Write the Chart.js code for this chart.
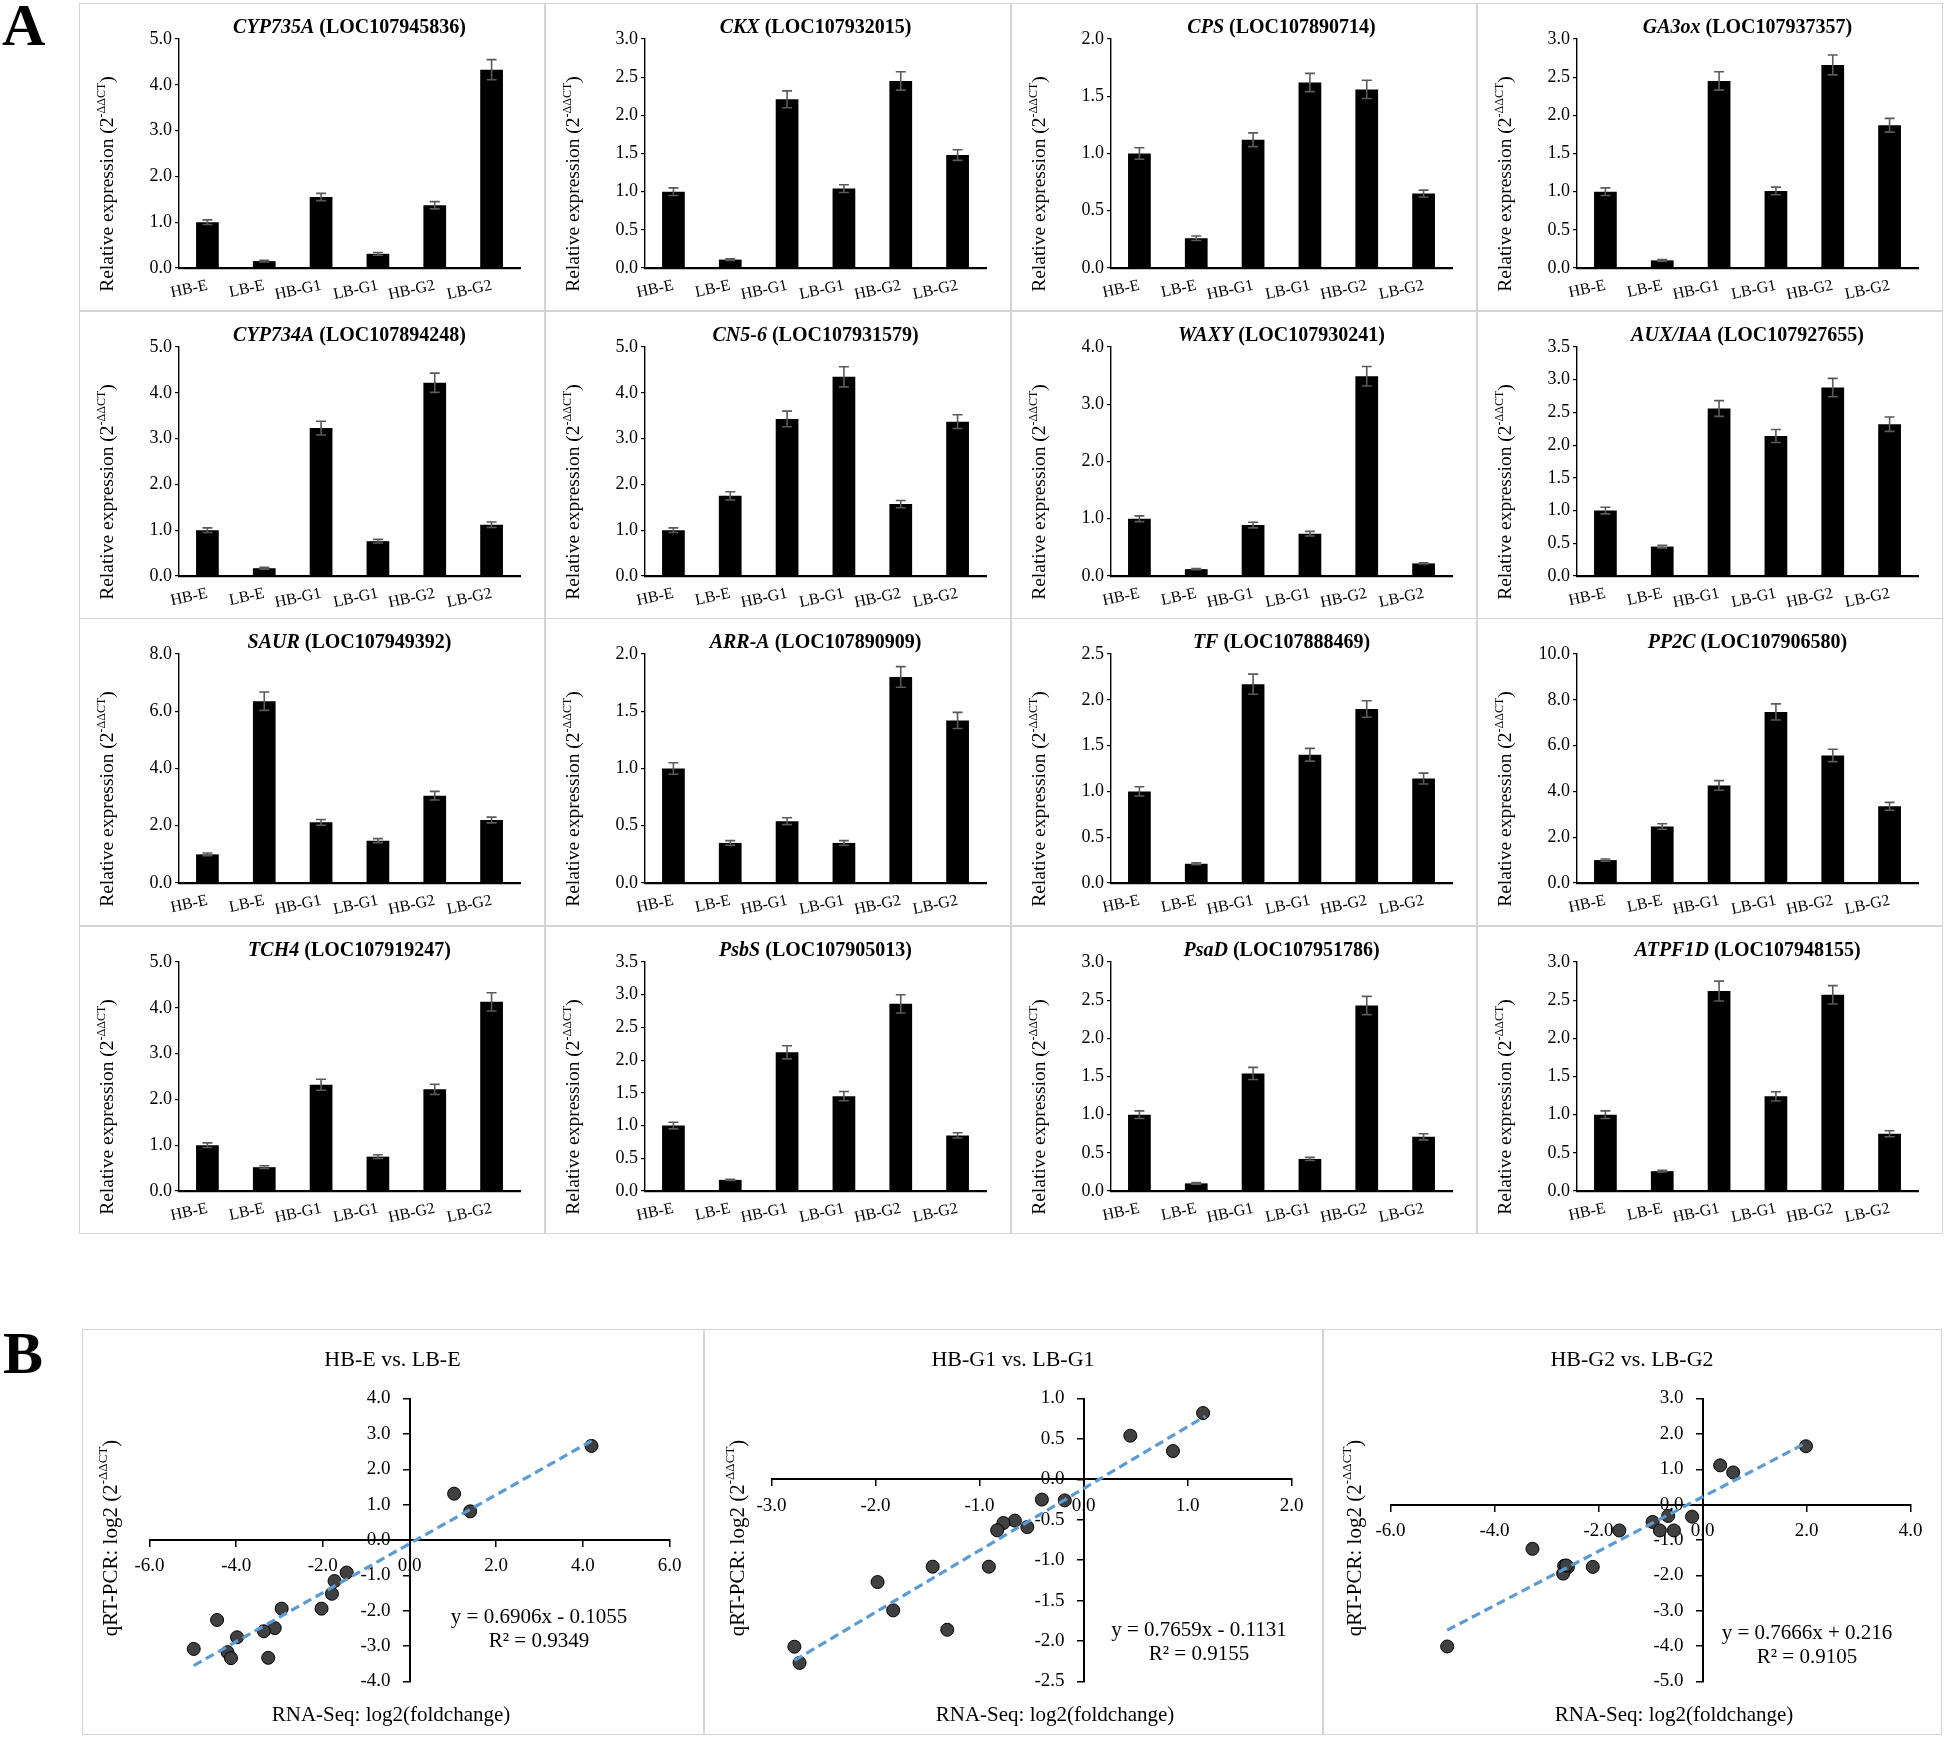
<!DOCTYPE html>
<html><head><meta charset="utf-8">
<script src="https://cdn.jsdelivr.net/npm/chart.js@4.4.0/dist/chart.umd.min.js"></script>
<style>
body{margin:0;background:#fff;width:1946px;height:1738px;position:relative;overflow:hidden;font-family:"Liberation Serif",serif}
.box{position:absolute;border:1.5px solid #d4d4d4;box-sizing:border-box;background:#fff}
.box canvas{position:absolute;left:0;top:0}
.lbl{position:absolute;font-weight:bold;font-size:60px;line-height:1;color:#000}
</style></head><body>
<div class="lbl" style="left:2px;top:-5px">A</div>
<div class="lbl" style="left:3px;top:1323px">B</div>
<script>
// ---------- Panel A data ----------
const categories = ['HB-E','LB-E','HB-G1','LB-G1','HB-G2','LB-G2'];
const geneNames = ['CYP735A','CKX','CPS','GA3ox','CYP734A','CN5-6','WAXY','AUX/IAA','SAUR','ARR-A','TF','PP2C','TCH4','PsbS','PsaD','ATPF1D'];
const locusIds = ['LOC107945836','LOC107932015','LOC107890714','LOC107937357','LOC107894248','LOC107931579','LOC107930241','LOC107927655','LOC107949392','LOC107890909','LOC107888469','LOC107906580','LOC107919247','LOC107905013','LOC107951786','LOC107948155'];
const yAxisMax  = [5.0, 3.0, 2.0, 3.0, 5.0, 5.0, 4.0, 3.5, 8.0, 2.0, 2.5, 10.0, 5.0, 3.5, 3.0, 3.0];
const yAxisStep = [1.0, 0.5, 0.5, 0.5, 1.0, 1.0, 1.0, 0.5, 2.0, 0.5, 0.5, 2.0, 1.0, 0.5, 0.5, 0.5];

const valCYP735A = [1.00, 0.15, 1.55, 0.31, 1.37, 4.33];
const errCYP735A = [0.05, 0.02, 0.08, 0.03, 0.08, 0.22];
const valCKX     = [1.00, 0.11, 2.21, 1.04, 2.45, 1.48];
const errCKX     = [0.05, 0.01, 0.11, 0.05, 0.12, 0.07];
const valCPS     = [1.00, 0.26, 1.12, 1.62, 1.56, 0.65];
const errCPS     = [0.05, 0.02, 0.06, 0.08, 0.08, 0.03];
const valGA3ox   = [1.00, 0.10, 2.45, 1.01, 2.66, 1.87];
const errGA3ox   = [0.05, 0.01, 0.12, 0.05, 0.13, 0.09];
const valCYP734A = [1.00, 0.17, 3.23, 0.76, 4.22, 1.12];
const errCYP734A = [0.05, 0.02, 0.15, 0.04, 0.21, 0.06];
const valCN56    = [1.00, 1.75, 3.43, 4.35, 1.57, 3.37];
const errCN56    = [0.05, 0.09, 0.17, 0.22, 0.08, 0.15];
const valWAXY    = [1.00, 0.12, 0.89, 0.74, 3.49, 0.22];
const errWAXY    = [0.05, 0.01, 0.05, 0.04, 0.17, 0.01];
const valAUXIAA  = [1.00, 0.45, 2.56, 2.14, 2.88, 2.32];
const errAUXIAA  = [0.05, 0.02, 0.12, 0.10, 0.14, 0.11];
const valSAUR    = [1.00, 6.35, 2.12, 1.48, 3.05, 2.20];
const errSAUR    = [0.05, 0.32, 0.10, 0.07, 0.15, 0.10];
const valARRA    = [1.00, 0.35, 0.54, 0.35, 1.80, 1.42];
const errARRA    = [0.05, 0.02, 0.03, 0.02, 0.09, 0.07];
const valTF      = [1.00, 0.21, 2.17, 1.40, 1.90, 1.14];
const errTF      = [0.05, 0.01, 0.11, 0.07, 0.09, 0.06];
const valPP2C    = [1.00, 2.47, 4.26, 7.47, 5.57, 3.35];
const errPP2C    = [0.05, 0.12, 0.21, 0.35, 0.27, 0.17];
const valTCH4    = [1.00, 0.52, 2.32, 0.75, 2.22, 4.13];
const errTCH4    = [0.05, 0.03, 0.12, 0.04, 0.11, 0.20];
const valPsbS    = [1.00, 0.17, 2.12, 1.45, 2.86, 0.85];
const errPsbS    = [0.05, 0.01, 0.10, 0.07, 0.14, 0.04];
const valPsaD    = [1.00, 0.10, 1.54, 0.42, 2.43, 0.71];
const errPsaD    = [0.05, 0.01, 0.08, 0.02, 0.12, 0.04];
const valATPF1D  = [1.00, 0.26, 2.62, 1.24, 2.57, 0.75];
const errATPF1D  = [0.05, 0.01, 0.13, 0.06, 0.12, 0.04];

const barValues = [valCYP735A, valCKX, valCPS, valGA3ox, valCYP734A, valCN56, valWAXY, valAUXIAA,
                   valSAUR, valARRA, valTF, valPP2C, valTCH4, valPsbS, valPsaD, valATPF1D];
const barErrors = [errCYP735A, errCKX, errCPS, errGA3ox, errCYP734A, errCN56, errWAXY, errAUXIAA,
                   errSAUR, errARRA, errTF, errPP2C, errTCH4, errPsbS, errPsaD, errATPF1D];

// ---------- Panel B data ----------
const scatterTitles = ['HB-E vs. LB-E', 'HB-G1 vs. LB-G1', 'HB-G2 vs. LB-G2'];
const rnaSeqE  = [4.20, 1.03, 1.40, -1.45, -1.73, -1.79, -2.03, -2.95, -3.11, -3.36, -3.26, -3.98, -4.44, -4.20, -4.12, -4.98];
const qpcrE    = [2.66, 1.31, 0.81, -0.92, -1.16, -1.52, -1.94, -1.94, -2.49, -2.58, -3.33, -2.75, -2.26, -3.17, -3.34, -3.08];
const rnaSeqG1 = [1.15, 0.45, 0.86, -0.40, -0.18, -0.66, -0.77, -0.83, -0.54, -1.45, -0.91, -1.98, -1.83, -1.31, -2.78, -2.73];
const qpcrG1   = [0.82, 0.54, 0.35, -0.25, -0.26, -0.51, -0.54, -0.63, -0.59, -1.08, -1.08, -1.27, -1.62, -1.86, -2.07, -2.27];
const rnaSeqG2 = [1.99, 0.34, 0.59, -0.20, -0.66, -0.96, -0.82, -0.55, -1.60, -3.27, -2.66, -2.59, -2.68, -2.11, -4.91, -2.62];
const qpcrG2   = [1.65, 1.11, 0.91, -0.34, -0.32, -0.49, -0.73, -0.73, -0.73, -1.25, -1.73, -1.77, -1.95, -1.76, -4.01, -1.72];
const trendXE  = [-4.98, 4.20];  const trendYE  = [-3.55, 2.80];
const trendXG1 = [-2.78, 1.17];  const trendYG1 = [-2.24, 0.78];
const trendXG2 = [-4.91, 2.00];  const trendYG2 = [-3.55, 1.75];
const equations = ['y = 0.6906x - 0.1055', 'y = 0.7659x - 0.1131', 'y = 0.7666x + 0.216'];
const rSquared  = ['R\u00b2 = 0.9349', 'R\u00b2 = 0.9155', 'R\u00b2 = 0.9105'];
const xAxisMin  = [-6.0, -3.0, -6.0];
const xAxisMax  = [6.0, 2.0, 4.0];
const xAxisStep = [2.0, 1.0, 2.0];
const yAxisMinB = [-4.0, -2.5, -5.0];
const yAxisMaxB = [4.0, 1.0, 3.0];
const yAxisStepB= [1.0, 0.5, 1.0];

// ---------- helpers ----------
const SERIF = '"Liberation Serif", "Times New Roman", serif';
function drawRich(ctx, parts, cx, cy) {
  let total = 0;
  parts.forEach(p => { ctx.font = p.font; p.w = ctx.measureText(p.text).width; total += p.w; });
  let x = cx - total / 2;
  ctx.textAlign = 'left'; ctx.textBaseline = 'middle'; ctx.fillStyle = '#000';
  parts.forEach(p => { ctx.font = p.font; ctx.fillText(p.text, x, cy + (p.dy || 0)); x += p.w; });
}
function supTitle(main, size, supSize) {
  return [
    {text: main + ' (2', font: size + 'px ' + SERIF},
    {text: '-\u0394\u0394CT', font: supSize + 'px ' + SERIF, dy: -size * 0.33},
    {text: ')', font: size + 'px ' + SERIF}
  ];
}
function addBox(left, top, w, h) {
  const d = document.createElement('div');
  d.className = 'box';
  d.style.left = left + 'px'; d.style.top = top + 'px';
  d.style.width = w + 'px'; d.style.height = h + 'px';
  const c = document.createElement('canvas');
  c.width = w - 3; c.height = h - 3;
  c.style.width = (w - 3) + 'px'; c.style.height = (h - 3) + 'px';
  d.appendChild(c);
  document.body.appendChild(d);
  return c;
}

const errorBarPlugin = {
  id: 'errbars',
  afterDatasetsDraw(chart) {
    const ds = chart.data.datasets[0];
    const meta = chart.getDatasetMeta(0);
    const ys = chart.scales.y, ctx = chart.ctx;
    ctx.save();
    ctx.strokeStyle = '#5a5a5a'; ctx.lineWidth = 1.6;
    meta.data.forEach((bar, i) => {
      const v = ds.data[i], e = ds.errBars[i];
      const yt = ys.getPixelForValue(v + e), yb = ys.getPixelForValue(Math.max(v - e, 0));
      ctx.beginPath();
      ctx.moveTo(bar.x, yt); ctx.lineTo(bar.x, yb);
      ctx.moveTo(bar.x - 5, yt); ctx.lineTo(bar.x + 5, yt);
      ctx.moveTo(bar.x - 5, yb); ctx.lineTo(bar.x + 5, yb);
      ctx.stroke();
    });
    ctx.restore();
  }
};
const barTextPlugin = {
  id: 'bartext',
  afterDraw(chart) {
    const o = chart.options.plugins.bartext;
    const ctx = chart.ctx, a = chart.chartArea;
    ctx.save();
    drawRich(ctx, [
      {text: o.gene, font: 'italic bold 20px ' + SERIF},
      {text: ' (' + o.locus + ')', font: 'bold 20px ' + SERIF}
    ], (a.left + a.right) / 2, 24);
    ctx.translate(28, 180);
    ctx.rotate(-Math.PI / 2);
    drawRich(ctx, supTitle('Relative expression', 19.5, 12), 0, 0);
    ctx.restore();
  }
};

function makeBar(idx) {
  const col = idx % 4, row = Math.floor(idx / 4);
  const left = 79 + col * 466, top = 3 + row * 307.5;
  const canvas = addBox(left, Math.round(top), 466, 308);
  new Chart(canvas, {
    type: 'bar',
    data: {
      labels: categories,
      datasets: [{
        data: barValues[idx], errBars: barErrors[idx],
        backgroundColor: '#000', borderWidth: 0,
        barPercentage: 0.40, categoryPercentage: 1.0
      }]
    },
    options: {
      animation: false, responsive: false, devicePixelRatio: 1,
      layout: {padding: {left: 0, right: 23, top: 35, bottom: 0}},
      plugins: {
        legend: {display: false}, tooltip: {enabled: false},
        bartext: {gene: geneNames[idx], locus: locusIds[idx]}
      },
      scales: {
        x: {
          grid: {display: false, drawTicks: false},
          border: {display: true, color: '#000', width: 2.2},
          ticks: {color: '#000', font: {family: SERIF, size: 16}, minRotation: 12, maxRotation: 12, padding: 8, autoSkip: false},
          afterFit: s => { s.height = 41; }
        },
        y: {
          min: 0, max: yAxisMax[idx],
          ticks: {stepSize: yAxisStep[idx], color: '#000', font: {family: SERIF, size: 18}, padding: 3,
                  callback: v => Number(v).toFixed(1)},
          grid: {drawOnChartArea: false, drawTicks: true, tickLength: 4, color: '#000', lineWidth: 1.2},
          border: {display: true, color: '#000', width: 1.4},
          afterFit: s => { s.width = 99; }
        }
      }
    },
    plugins: [errorBarPlugin, barTextPlugin]
  });
}
for (let i = 0; i < 16; i++) makeBar(i);

// ---------- scatter panels ----------
const scatterText = [
  {xTitleX: 308, yTitleX: 28, eqX: 456, eqY: 287},
  {xTitleX: 350, yTitleX: 33, eqX: 494, eqY: 300},
  {xTitleX: 350, yTitleX: 31, eqX: 483, eqY: 303}
];
const scatterTextPlugin = {
  id: 'sctext',
  afterDraw(chart) {
    const o = chart.options.plugins.sctext;
    const ctx = chart.ctx, W = chart.width;
    ctx.save();
    drawRich(ctx, [{text: o.title, font: '22px ' + SERIF}], W / 2, 30);
    drawRich(ctx, [{text: 'RNA-Seq: log2(foldchange)', font: '21px ' + SERIF}], o.xTitleX, 385);
    drawRich(ctx, [{text: o.eq, font: '21px ' + SERIF}], o.eqX, o.eqY);
    drawRich(ctx, [{text: o.r2, font: '21px ' + SERIF}], o.eqX, o.eqY + 24);
    ctx.translate(o.yTitleX, 208);
    ctx.rotate(-Math.PI / 2);
    drawRich(ctx, supTitle('qRT-PCR: log2', 21, 13), 0, 0);
    ctx.restore();
  }
};
function toPoints(xs, ys) { return xs.map((x, i) => ({x: x, y: ys[i]})); }
const scatterX = [rnaSeqE, rnaSeqG1, rnaSeqG2];
const scatterY = [qpcrE, qpcrG1, qpcrG2];
const trendX = [trendXE, trendXG1, trendXG2];
const trendY = [trendYE, trendYG1, trendYG2];
const boxLefts = [82, 704, 1323];
const boxWidths = [622, 619, 619];

function makeScatter(k) {
  const canvas = addBox(boxLefts[k], 1329, boxWidths[k], 406);
  const cw = boxWidths[k] - 3;
  new Chart(canvas, {
    type: 'scatter',
    data: {
      datasets: [
        {type: 'line', data: toPoints(trendX[k], trendY[k]), borderColor: '#5b9bd5', borderWidth: 3.2,
         borderDash: [9, 5], pointRadius: 0, fill: false, order: 0},
        {type: 'scatter', data: toPoints(scatterX[k], scatterY[k]), backgroundColor: '#404040',
         borderColor: '#000', borderWidth: 1, pointRadius: 6.5, order: 1}
      ]
    },
    options: {
      animation: false, responsive: false, devicePixelRatio: 1,
      layout: {padding: {left: 66.5, right: cw - 586.5, top: 68.5, bottom: 51.5}},
      plugins: {
        legend: {display: false}, tooltip: {enabled: false},
        sctext: Object.assign({title: scatterTitles[k], eq: equations[k], r2: rSquared[k]}, scatterText[k])
      },
      scales: {
        x: {
          type: 'linear', position: {y: 0}, min: xAxisMin[k], max: xAxisMax[k],
          ticks: {stepSize: xAxisStep[k], color: '#000', font: {family: SERIF, size: 19}, padding: 9,
                  callback: v => Number(v).toFixed(1)},
          grid: {drawOnChartArea: false, drawTicks: true, tickLength: 6, color: '#000', lineWidth: 1.5},
          border: {display: true, color: '#000', width: 2}
        },
        y: {
          type: 'linear', position: {x: 0}, min: yAxisMinB[k], max: yAxisMaxB[k],
          ticks: {stepSize: yAxisStepB[k], color: '#000', font: {family: SERIF, size: 19}, padding: 12,
                  // trailing en-spaces keep the right-aligned label clear of the centred axis
                  callback: v => Number(v).toFixed(1) + '\u2002\u2002'},
          grid: {drawOnChartArea: false, drawTicks: true, tickLength: 6, color: '#000', lineWidth: 1.5},
          border: {display: true, color: '#000', width: 2}
        }
      }
    },
    plugins: [scatterTextPlugin]
  });
}
for (let k = 0; k < 3; k++) makeScatter(k);
</script>
</body></html>
